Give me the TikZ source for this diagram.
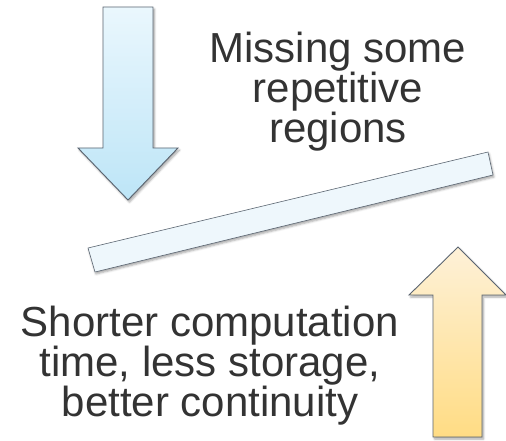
\documentclass[tikz,border=0pt]{standalone}
\usepackage{fontspec}
\setmainfont{Liberation Sans}
\usetikzlibrary{shadows.blur}
\definecolor{txt}{HTML}{333333}
\definecolor{edge}{HTML}{5A6470}
\definecolor{bluetop}{HTML}{EAF7FD}
\definecolor{bluebot}{HTML}{BDE5F7}
\definecolor{ylwtop}{HTML}{FEF1D8}
\definecolor{ylwbot}{HTML}{FFDC84}
\definecolor{barfill}{HTML}{EEF7FC}
\tikzset{
  shapeedge/.style={draw=edge, line width=0.9pt, line join=miter,
    blur shadow={shadow xshift=1.5pt, shadow yshift=-2pt, shadow blur steps=6, shadow opacity=35}},
  label/.style={text=txt, align=center, inner sep=0pt}
}
\begin{document}
\begin{tikzpicture}[x=1pt,y=-1pt]
\useasboundingbox (0,0) rectangle (506,441);
% down arrow
\shade[shapeedge, top color=bluetop, bottom color=bluebot]
  (103,7) -- (153,7) -- (153,148) -- (178,148) -- (128,200) -- (78,148) -- (103,148) -- cycle;
% tilted bar
\fill[barfill, draw=edge, line width=0.6pt, blur shadow={shadow xshift=1pt, shadow yshift=-2pt, shadow opacity=35}]
  (88,248) -- (488,152) -- (493,175) -- (95,272) -- cycle;
% up arrow
\shade[shapeedge, top color=ylwtop, bottom color=ylwbot]
  (458,247) -- (506,295) -- (482,295) -- (482,437) -- (433,437) -- (433,295) -- (409,295) -- cycle;
% texts
\node[label, anchor=north, font=\fontsize{42}{35}\selectfont] (top) at (338,32)
  {Missing some\\repetitive\\regions};
\node[label, anchor=north, font=\fontsize{42}{37.5}\selectfont] (bot) at (210,306)
  {Shorter computation\\time, less storage,\\better continuity};
\end{tikzpicture}
\end{document}
